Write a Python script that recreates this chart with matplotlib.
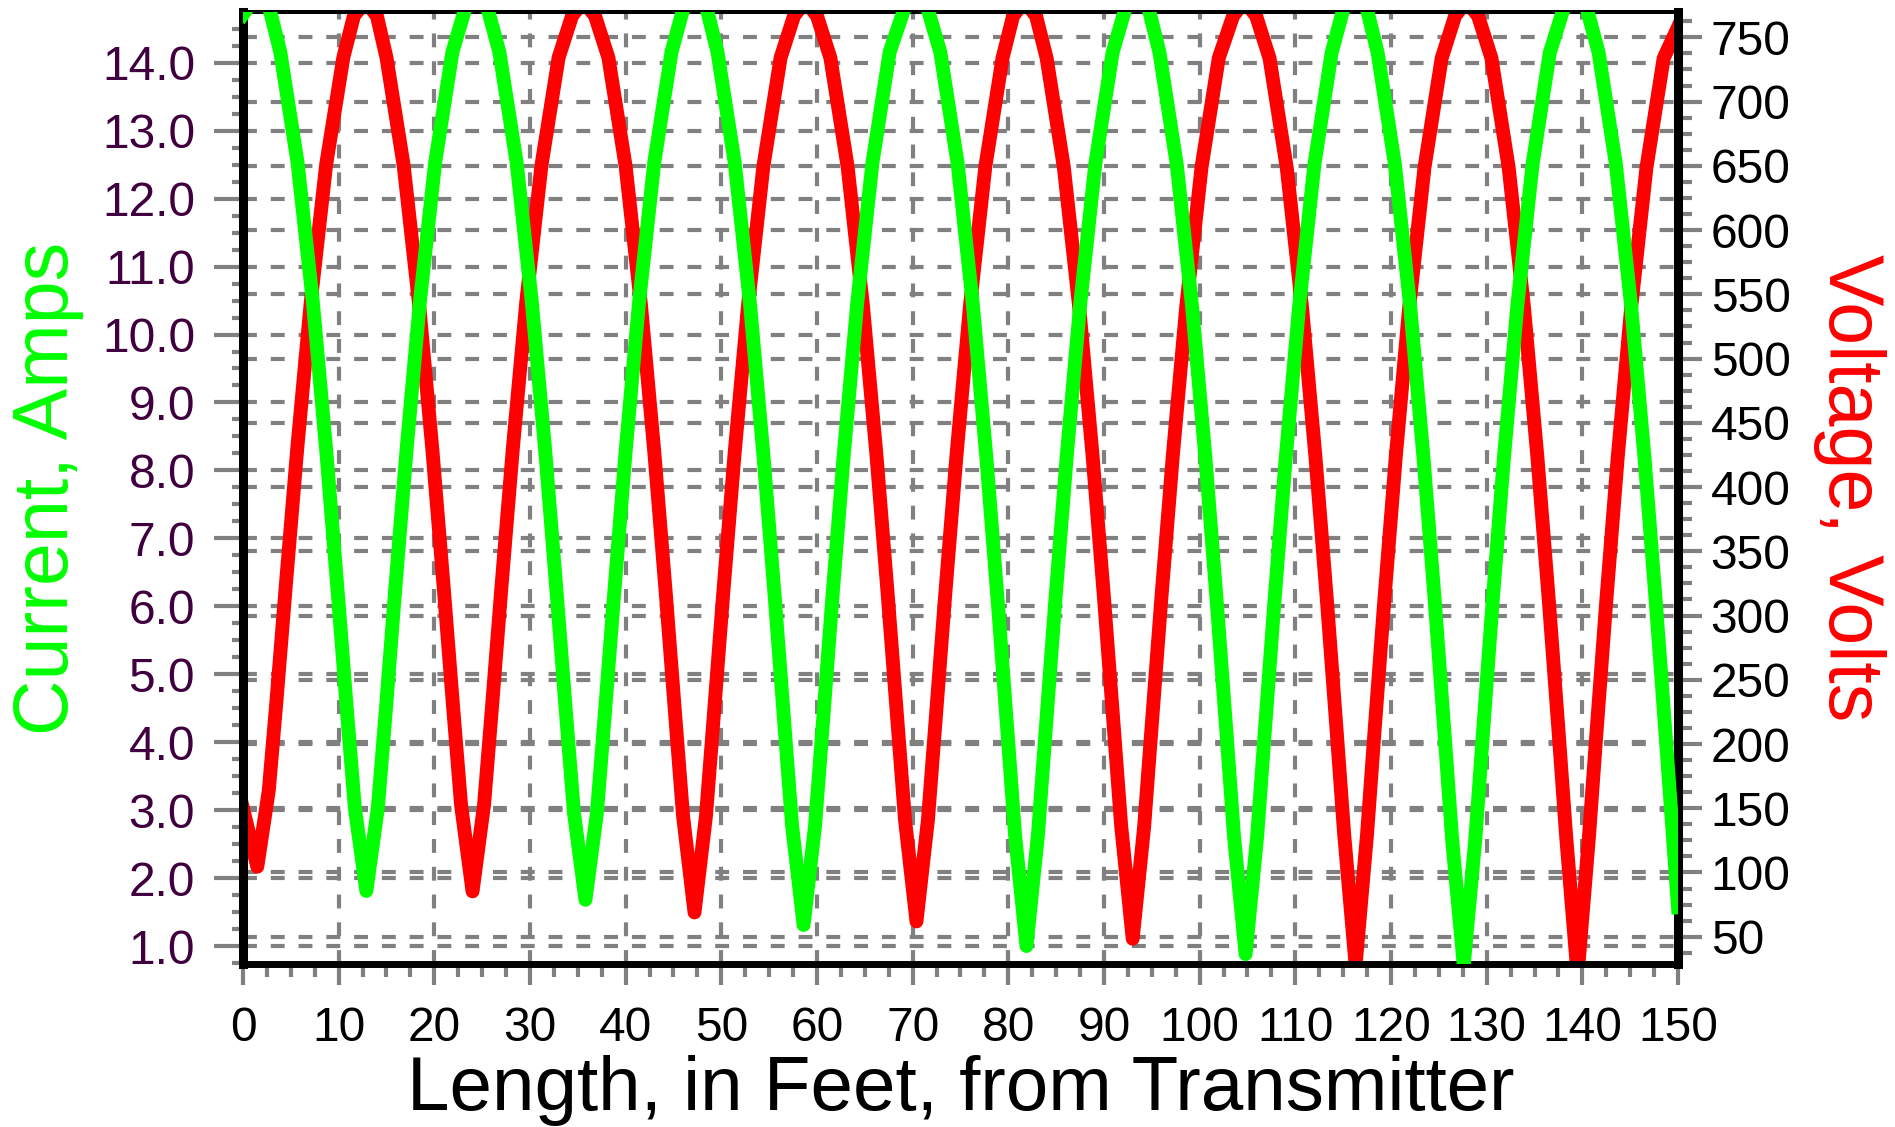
import matplotlib
matplotlib.use('Agg')
import matplotlib.pyplot as plt
from matplotlib.ticker import MultipleLocator, FormatStrFormatter

# Current along the line (green, left axis)
current_ft = [0.0, 1.5, 2.8, 3.9, 5.7, 7.3, 8.7, 9.9, 10.9, 11.7, 12.9, 14.1, 14.9, 15.9, 17.1, 18.5, 20.1, 21.9, 23.2, 24.4, 25.6,
              26.8, 28.6, 30.2, 31.6, 32.8, 33.8, 34.6, 35.8, 37.0, 37.8, 38.8, 40.0, 41.4, 43.0, 44.8, 46.0, 47.2, 48.5,
              49.6, 51.4, 53.0, 54.4, 55.6, 56.6, 57.4, 58.6, 59.8, 60.6, 61.6, 62.8, 64.2, 65.8, 67.6, 69.1, 70.3, 71.6,
              72.9, 74.7, 76.3, 77.7, 78.9, 79.9, 80.7, 81.9, 83.1, 83.9, 84.9, 86.1, 87.5, 89.1, 90.9, 92.2, 93.4, 94.7,
              95.8, 97.6, 99.2, 100.6, 101.8, 102.8, 103.6, 104.8, 106.0, 106.8, 107.8, 109.0, 110.4, 112.0, 113.8, 115.0, 116.2, 117.5,
              118.6, 120.4, 122.0, 123.4, 124.6, 125.6, 126.4, 127.6, 128.8, 129.6, 130.6, 131.8, 133.2, 134.8, 136.6, 138.0, 139.2, 140.5,
              141.7, 143.5, 145.1, 146.5, 147.7, 148.7, 149.5, 150.0]
current_amps = [14.71, 15.00, 14.78, 14.16, 12.54, 10.49, 8.30, 6.22, 4.41, 3.03, 1.81, 3.03, 4.41, 6.22, 8.30, 10.49, 12.54, 14.16, 14.78, 15.00, 14.78,
                14.16, 12.54, 10.47, 8.28, 6.18, 4.37, 2.96, 1.68, 2.96, 4.37, 6.18, 8.28, 10.47, 12.54, 14.16, 14.78, 15.00, 14.78,
                14.16, 12.53, 10.45, 8.23, 6.11, 4.25, 2.77, 1.31, 2.77, 4.25, 6.11, 8.23, 10.45, 12.53, 14.16, 14.78, 15.00, 14.78,
                14.15, 12.52, 10.43, 8.20, 6.06, 4.17, 2.64, 1.00, 2.64, 4.17, 6.06, 8.20, 10.43, 12.52, 14.15, 14.78, 15.00, 14.78,
                14.15, 12.51, 10.42, 8.19, 6.04, 4.14, 2.60, 0.88, 2.60, 4.14, 6.04, 8.19, 10.42, 12.51, 14.15, 14.78, 15.00, 14.78,
                14.15, 12.51, 10.42, 8.18, 6.03, 4.11, 2.55, 0.72, 2.55, 4.11, 6.03, 8.18, 10.42, 12.51, 14.15, 14.78, 15.00, 14.78,
                14.15, 12.51, 10.42, 8.18, 6.02, 4.11, 2.55, 1.57]

# Voltage along the line (red, right axis)
voltage_ft = [0.0, 1.5, 2.7, 3.5, 4.5, 5.7, 7.1, 8.7, 10.5, 11.6, 12.8, 14.0,
              15.0, 16.8, 18.4, 19.8, 21.0, 22.0, 22.8, 24.0, 25.2, 26.0, 27.0, 28.2, 29.6, 31.2, 33.0, 34.4, 35.6, 36.8,
              38.2, 40.0, 41.6, 43.0, 44.2, 45.2, 46.0, 47.2, 48.4, 49.2, 50.2, 51.4, 52.8, 54.4, 56.2, 57.6, 58.8, 60.0,
              61.4, 63.2, 64.8, 66.2, 67.4, 68.4, 69.2, 70.4, 71.6, 72.4, 73.4, 74.6, 76.0, 77.6, 79.4, 80.5, 81.7, 82.9,
              84.0, 85.8, 87.4, 88.8, 90.0, 91.0, 91.8, 93.0, 94.2, 95.0, 96.0, 97.2, 98.6, 100.2, 102.0, 103.5, 104.7, 105.9,
              107.3, 109.1, 110.7, 112.1, 113.3, 114.3, 115.1, 116.3, 117.5, 118.3, 119.3, 120.5, 121.9, 123.5, 125.3, 126.7, 127.9, 129.1,
              130.5, 132.3, 133.9, 135.3, 136.5, 137.5, 138.3, 139.5, 140.7, 141.5, 142.5, 143.7, 145.1, 146.7, 148.5, 150.0]
voltage_volts = [150, 104.5, 163.7, 233.2, 325.1, 432.1, 544.8, 651.1, 734.6, 766.7, 778, 766.7,
                 734.4, 650.3, 543.1, 429.1, 320.3, 225.8, 152.5, 85.3, 152.5, 225.8, 320.3, 429.1, 543.1, 650.3, 734.4, 766.7, 778, 766.7,
                 734.2, 649.7, 541.9, 427.0, 317.0, 220.6, 144.2, 68.9, 144.2, 220.6, 317.0, 427.0, 541.9, 649.7, 734.2, 766.7, 778, 766.7,
                 734.1, 649.5, 541.5, 426.3, 315.8, 218.6, 141.1, 61.9, 141.1, 218.6, 315.8, 426.3, 541.5, 649.5, 734.1, 766.7, 778, 766.7,
                 734.0, 649.1, 540.7, 425.0, 313.8, 215.5, 135.9, 48.4, 135.9, 215.5, 313.8, 425.0, 540.7, 649.1, 734.0, 766.7, 778, 766.7,
                 733.9, 648.7, 540.0, 423.7, 311.7, 212.1, 130.2, 28, 130.2, 212.1, 311.7, 423.7, 540.0, 648.7, 733.9, 766.7, 778, 766.7,
                 733.8, 648.6, 539.8, 423.4, 311.2, 211.2, 128.7, 20, 128.7, 211.2, 311.2, 423.4, 539.8, 648.6, 733.8, 758]

GREEN = '#00ff00'
RED = '#ff0000'
GREY = '#808080'
PURPLE = '#400040'

plt.rcParams['font.family'] = ['Liberation Sans', 'DejaVu Sans']
plt.rcParams['lines.scale_dashes'] = False

fig = plt.figure(figsize=(18.95, 11.27), dpi=100)
ax = fig.add_axes([0.1282, 0.1446, 0.7573, 0.8447])
ax2 = ax.twinx()
# left axes on top so both curves sit above both grids
ax.set_zorder(ax2.get_zorder() + 1)
ax.patch.set_visible(False)

grid_style = dict(color=GREY, linewidth=3, linestyle=(0, (10, 10)))
ax.grid(True, which='major', axis='both', **grid_style)
ax2.grid(True, which='major', axis='y', **grid_style)

ax.plot(voltage_ft, voltage_volts, color=RED, linewidth=10, transform=ax2.transData, zorder=2)
ax.plot(current_ft, current_amps, color=GREEN, linewidth=10, zorder=3)

ax.set_xlim(0, 150)
ax.set_ylim(0.735, 14.746)
ax2.set_ylim(28.75, 769.7)

ax.xaxis.set_major_locator(MultipleLocator(10))
ax.xaxis.set_minor_locator(MultipleLocator(2.5))
ax.yaxis.set_major_locator(MultipleLocator(1.0))
ax.yaxis.set_minor_locator(MultipleLocator(0.25))
ax.yaxis.set_major_formatter(FormatStrFormatter('%.1f'))
ax2.yaxis.set_major_locator(MultipleLocator(50))
ax2.yaxis.set_minor_locator(MultipleLocator(12.5))
ax2.yaxis.set_major_formatter(FormatStrFormatter('%d'))

ax.tick_params(axis='y', which='major', direction='out', length=21, width=3, color=GREY,
               labelsize=34.5, labelcolor=PURPLE, pad=13.5, right=False)
ax.tick_params(axis='y', which='minor', direction='out', length=8, width=3, color=GREY, right=False)
ax.tick_params(axis='x', which='major', direction='out', length=15, width=3, color=GREY,
               labelsize=34.5, labelcolor='black', pad=15, top=False)
ax.tick_params(axis='x', which='minor', direction='out', length=9.5, width=3, color=GREY, top=False)
ax2.tick_params(axis='y', which='major', direction='out', length=17, width=3, color=GREY,
                labelsize=34.5, labelcolor='black', pad=6.5, left=False)
ax2.tick_params(axis='y', which='minor', direction='out', length=10, width=3, color=GREY, left=False)

for side in ax2.spines:
    ax2.spines[side].set_visible(False)
ax.spines['left'].set_linewidth(6.5)
ax.spines['right'].set_linewidth(6.5)
ax.spines['bottom'].set_linewidth(5)
ax.spines['top'].set_linewidth(2.9)

ax.set_xlabel('Length, in Feet, from Transmitter', fontsize=55, color='black', labelpad=3)
ax.set_ylabel('Current, Amps', fontsize=55.5, color=GREEN, labelpad=13)
ax2.set_ylabel('Voltage, Volts', fontsize=55.5, color=RED, rotation=270, va='bottom', labelpad=16)

fig.savefig('out.png', dpi=100, facecolor='white')
